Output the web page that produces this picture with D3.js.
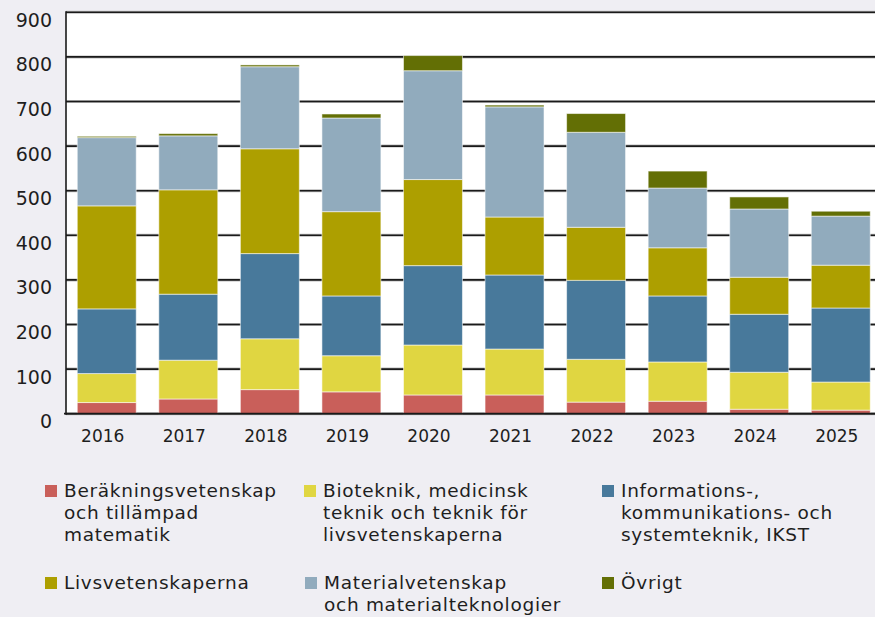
<!DOCTYPE html>
<html><head><meta charset="utf-8">
<script src="https://cdn.jsdelivr.net/npm/d3@7"></script>
<style>
html,body{margin:0;padding:0;background:#efeef3;}
svg{display:block;font-family:"DejaVu Sans",sans-serif;}
</style></head>
<body><svg id="c" width="875" height="617"></svg>
<script>
const years = ["2016","2017","2018","2019","2020","2021","2022","2023","2024","2025"];
const ber  = [25,33,54,49,42,42,26,28,10,8];
const bio  = [65,87,114,81,112,103,96,88,83,63];
const ikst = [145,148,191,134,178,166,177,148,130,166];
const livs = [231,234,235,189,193,130,119,108,83,96];
const mat  = [153,121,184,210,244,247,213,134,153,110];
const ovr  = [3,5,4,9,34,4,42,38,27,11];
const yTicks = [0,100,200,300,400,500,600,700,800,900];
const seriesNames = [
  ["Beräkningsvetenskap","och tillämpad","matematik"],
  ["Bioteknik, medicinsk","teknik och teknik för","livsvetenskaperna"],
  ["Informations-,","kommunikations- och","systemteknik, IKST"],
  ["Livsvetenskaperna"],
  ["Materialvetenskap","och materialteknologier"],
  ["Övrigt"]
];
const colors = ["#c95f5a","#e0d641","#48799b","#ad9f00","#91abbd","#636f05"];
const keys = ["ber","bio","ikst","livs","mat","ovr"];
const seriesVals = [ber,bio,ikst,livs,mat,ovr];

const table = years.map((y,i)=>{const o={year:y}; keys.forEach((k,j)=>o[k]=seriesVals[j][i]); return o;});
const stack = d3.stack().keys(keys)(table);

const svg = d3.select("#c");
const L=66, R=875, T=12.3, B=413.7;
const x = d3.scaleBand().domain(years).range([L,881.5]).paddingInner(0.277).paddingOuter(0.138);
const y = d3.scaleLinear().domain([0,900]).range([B,T]);

svg.append("rect").attr("x",L).attr("y",T).attr("width",R-L).attr("height",B-T).attr("fill","#fff");

const g = svg.append("g");
g.selectAll("line.halo").data(yTicks).join("line")
  .attr("x1",L).attr("x2",R).attr("y1",d=>y(d)).attr("y2",d=>y(d))
  .attr("stroke","#bbb").attr("stroke-width",3);
g.selectAll("line.grid").data(yTicks).join("line")
  .attr("x1",L).attr("x2",R).attr("y1",d=>y(d)).attr("y2",d=>y(d))
  .attr("stroke","#1a1a1a").attr("stroke-width",1.6);

svg.append("g").selectAll("g").data(stack).join("g")
  .attr("fill",(d,i)=>colors[i])
  .selectAll("rect").data(d=>d).join("rect")
  .attr("x",d=>x(d.data.year)).attr("width",x.bandwidth())
  .attr("y",d=>y(d[1])).attr("height",d=>y(d[0])-y(d[1]))
  .attr("stroke","rgba(255,255,255,0.55)").attr("stroke-width",1);

svg.append("line").attr("x1",L).attr("x2",L).attr("y1",T-1).attr("y2",B+1).attr("stroke","#1a1a1a").attr("stroke-width",1.6);
svg.append("line").attr("x1",L-2).attr("x2",R).attr("y1",B).attr("y2",B).attr("stroke","#1a1a1a").attr("stroke-width",1.8);

const yAxis = d3.axisLeft(y).tickValues(yTicks).tickSize(0).tickPadding(0);
const ya = svg.append("g").attr("transform",`translate(52,8)`).call(yAxis);
ya.select(".domain").remove();
ya.selectAll("text").attr("font-size",19).attr("fill","#1e1e1e").attr("font-family","DejaVu Sans, sans-serif");

const xAxis = d3.axisBottom(x).tickSize(0).tickPadding(0);
const xa = svg.append("g").attr("transform",`translate(-4,430)`).call(xAxis);
xa.select(".domain").remove();
xa.selectAll("text").attr("font-size",17).attr("fill","#1e1e1e").attr("font-family","DejaVu Sans, sans-serif");

const legPos = [[45,485],[304,485],[602,485],[45,577],[305,577],[602,577]];
const lg = svg.append("g").selectAll("g").data(seriesNames).join("g")
  .attr("transform",(d,i)=>`translate(${legPos[i][0]},${legPos[i][1]})`);
lg.append("rect").attr("width",12).attr("height",12).attr("fill",(d,i)=>colors[i]);
lg.each(function(d){
  const t = d3.select(this).append("text").attr("font-size",18.5).attr("letter-spacing",0.7).attr("fill","#1e1e1e");
  d.forEach((line,k)=>t.append("tspan").attr("x",19).attr("y",6+k*21.7).attr("dy","0.35em").text(line));
});
</script></body></html>
